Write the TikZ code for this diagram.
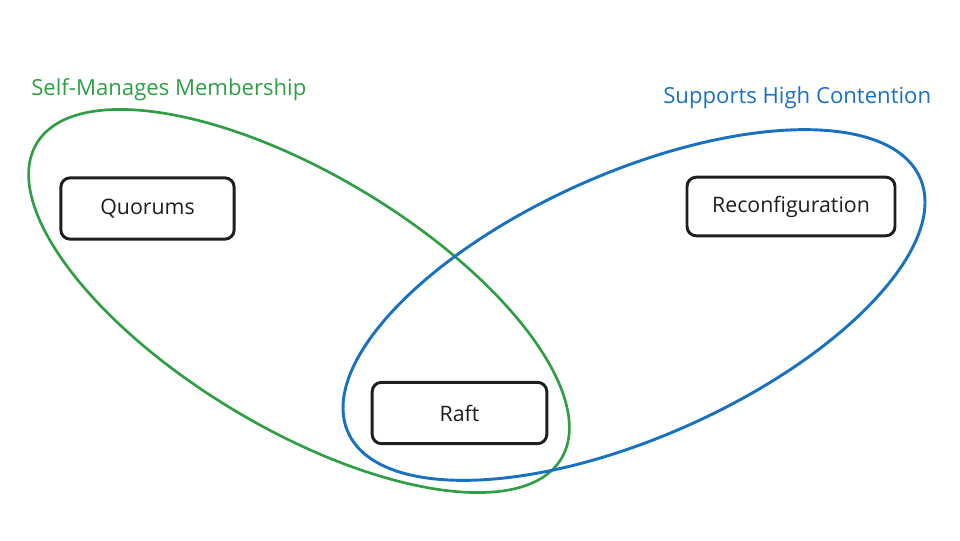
\documentclass[tikz,border=0pt]{standalone}
\usepackage{fontspec}
\setmainfont{Open Sans}
\usepackage{tikz}

\definecolor{setgreen}{RGB}{47,158,68}
\definecolor{setblue}{RGB}{25,113,194}
\definecolor{inkblack}{RGB}{30,30,30}

\tikzset{
  concept/.style={draw=inkblack, line width=2.2, rounded corners=7, fill=white, inner sep=0pt, font=\fontsize{16}{19}\selectfont, text=inkblack},
  setlabel/.style={anchor=west, inner sep=0.75pt, font=\fontsize{16.6}{19}\selectfont}
}

\begin{document}
\begin{tikzpicture}[x=0.75pt,y=0.75pt,yscale=-1,xscale=1]
\useasboundingbox (0,0) rectangle (960,540);
% the two sets
\draw [setgreen, line width=2] [rotate around={31:(299,301)}] (299,301) ellipse [x radius=306, y radius=127];
\draw [setblue, line width=2.2] [rotate around={-24:(634,305)}] (634,305) ellipse [x radius=313, y radius=132];
% set names
\node [setlabel, text=setgreen] (selfmanaged) at (30,90) {Self-Manages Membership};
\node [setlabel, text=setblue] (highcontention) at (662,98) {Supports High Contention};
% members
\node [concept, minimum width=130, minimum height=46] (quorums) at (147.5,208.5) {Quorums};
\node [concept, minimum width=156, minimum height=44] (reconfig) at (791,206.5) {Reconfiguration};
\node [concept, minimum width=131, minimum height=46] (raft) at (459.5,413) {Raft};
\end{tikzpicture}
\end{document}
